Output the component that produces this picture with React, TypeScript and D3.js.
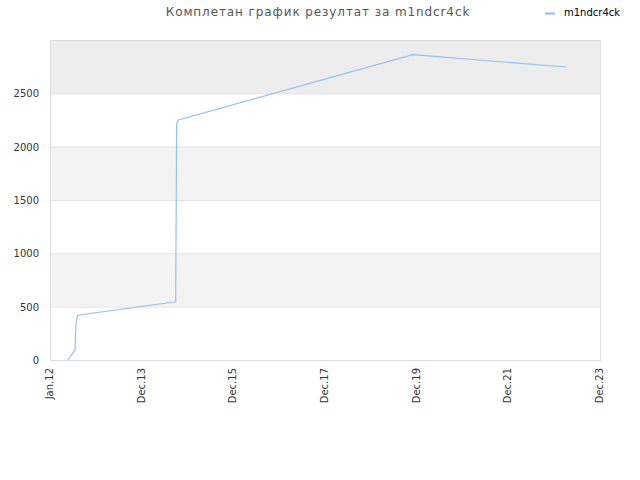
import React, { useEffect, useRef } from 'react';
import * as d3 from 'd3';

const pointDates = [
  '2012-05-22', '2012-07-18', '2012-07-25', '2012-08-07', '2014-09-28',
  '2014-10-02', '2014-10-06', '2014-10-20', '2019-12-01', '2023-04-04',
];
const pointValues = [0, 90, 320, 420, 546, 1313, 2213, 2250, 2862, 2747];

const tickDates = ['2012-01-01', '2013-12-31', '2015-12-31', '2017-12-31', '2019-12-31', '2021-12-31', '2023-12-31'];
const tickLabels = ['Jan.12', 'Dec.13', 'Dec.15', 'Dec.17', 'Dec.19', 'Dec.21', 'Dec.23'];
const yTicks = [0, 500, 1000, 1500, 2000, 2500];

const title = 'Комплетан график резултат за m1ndcr4ck';
const seriesName = 'm1ndcr4ck';

export default function App() {
  const ref = useRef<SVGSVGElement>(null);

  useEffect(() => {
    const margin = { top: 40, bottom: 120, left: 50, right: 40 };
    const width = 640;
    const height = 480;
    const font = '"DejaVu Sans", sans-serif';

    const svg = d3.select(ref.current);
    svg.selectAll('*').remove();

    const parse = d3.utcParse('%Y-%m-%d');
    const data = pointDates.map((d, i) => ({ date: parse(d) as Date, value: pointValues[i] }));

    const xScale = d3
      .scaleUtc()
      .domain([parse(tickDates[0]) as Date, parse(tickDates[tickDates.length - 1]) as Date])
      .range([margin.left, width - margin.right]);

    const yScale = d3
      .scaleLinear()
      .domain([0, 3000])
      .range([height - margin.bottom, margin.top]);

    // alternating bands
    const bands = [
      { from: 500, to: 1000, fill: '#f3f3f3' },
      { from: 1500, to: 2000, fill: '#f3f3f3' },
      { from: 2500, to: 3000, fill: '#ededed' },
    ];
    svg
      .selectAll('rect.band')
      .data(bands)
      .enter()
      .append('rect')
      .attr('x', margin.left)
      .attr('width', width - margin.left - margin.right)
      .attr('y', (d) => yScale(d.to))
      .attr('height', (d) => yScale(d.from) - yScale(d.to))
      .attr('fill', (d) => d.fill);

    svg
      .selectAll('line.grid')
      .data(yTicks.slice(1))
      .enter()
      .append('line')
      .attr('x1', margin.left)
      .attr('x2', width - margin.right)
      .attr('y1', (d) => yScale(d) + 0.5)
      .attr('y2', (d) => yScale(d) + 0.5)
      .attr('stroke', '#e2e2e2');

    svg
      .append('rect')
      .attr('x', margin.left + 0.5)
      .attr('y', margin.top + 0.5)
      .attr('width', width - margin.left - margin.right)
      .attr('height', height - margin.top - margin.bottom)
      .attr('fill', 'none')
      .attr('stroke', '#dcdcdc');

    svg
      .selectAll('text.ylab')
      .data(yTicks)
      .enter()
      .append('text')
      .attr('x', 39)
      .attr('y', (d) => yScale(d) + 4)
      .attr('text-anchor', 'end')
      .attr('font-family', font)
      .attr('font-size', 10)
      .attr('fill', '#333')
      .text((d) => d);

    svg
      .selectAll('text.xlab')
      .data(tickDates)
      .enter()
      .append('text')
      .attr('transform', (d) => `translate(${xScale(parse(d) as Date) + 3}, 368) rotate(-90)`)
      .attr('text-anchor', 'end')
      .attr('font-family', font)
      .attr('font-size', 10)
      .attr('fill', '#333')
      .text((d, i) => tickLabels[i]);

    const line = d3
      .line<{ date: Date; value: number }>()
      .x((d) => xScale(d.date))
      .y((d) => yScale(d.value));

    svg
      .append('path')
      .datum(data)
      .attr('d', line)
      .attr('fill', 'none')
      .attr('stroke', '#90c3f3')
      .attr('stroke-width', 1.2);

    svg
      .append('text')
      .attr('x', 318)
      .attr('y', 16)
      .attr('text-anchor', 'middle')
      .attr('font-family', font)
      .attr('font-size', 12)
      .attr('letter-spacing', 0.9)
      .attr('fill', '#555')
      .text(title);

    svg
      .append('line')
      .attr('x1', 545)
      .attr('x2', 555)
      .attr('y1', 13.5)
      .attr('y2', 13.5)
      .attr('stroke', '#90c3f3')
      .attr('stroke-width', 2);
    svg
      .append('text')
      .attr('x', 564)
      .attr('y', 16)
      .attr('font-family', font)
      .attr('font-size', 10)
      .attr('fill', '#000')
      .text(seriesName);
  }, []);

  return (
    <svg
      ref={ref}
      width={640}
      height={480}
      style={{ position: 'absolute', left: 0, top: 0, background: '#fff' }}
    />
  );
}
